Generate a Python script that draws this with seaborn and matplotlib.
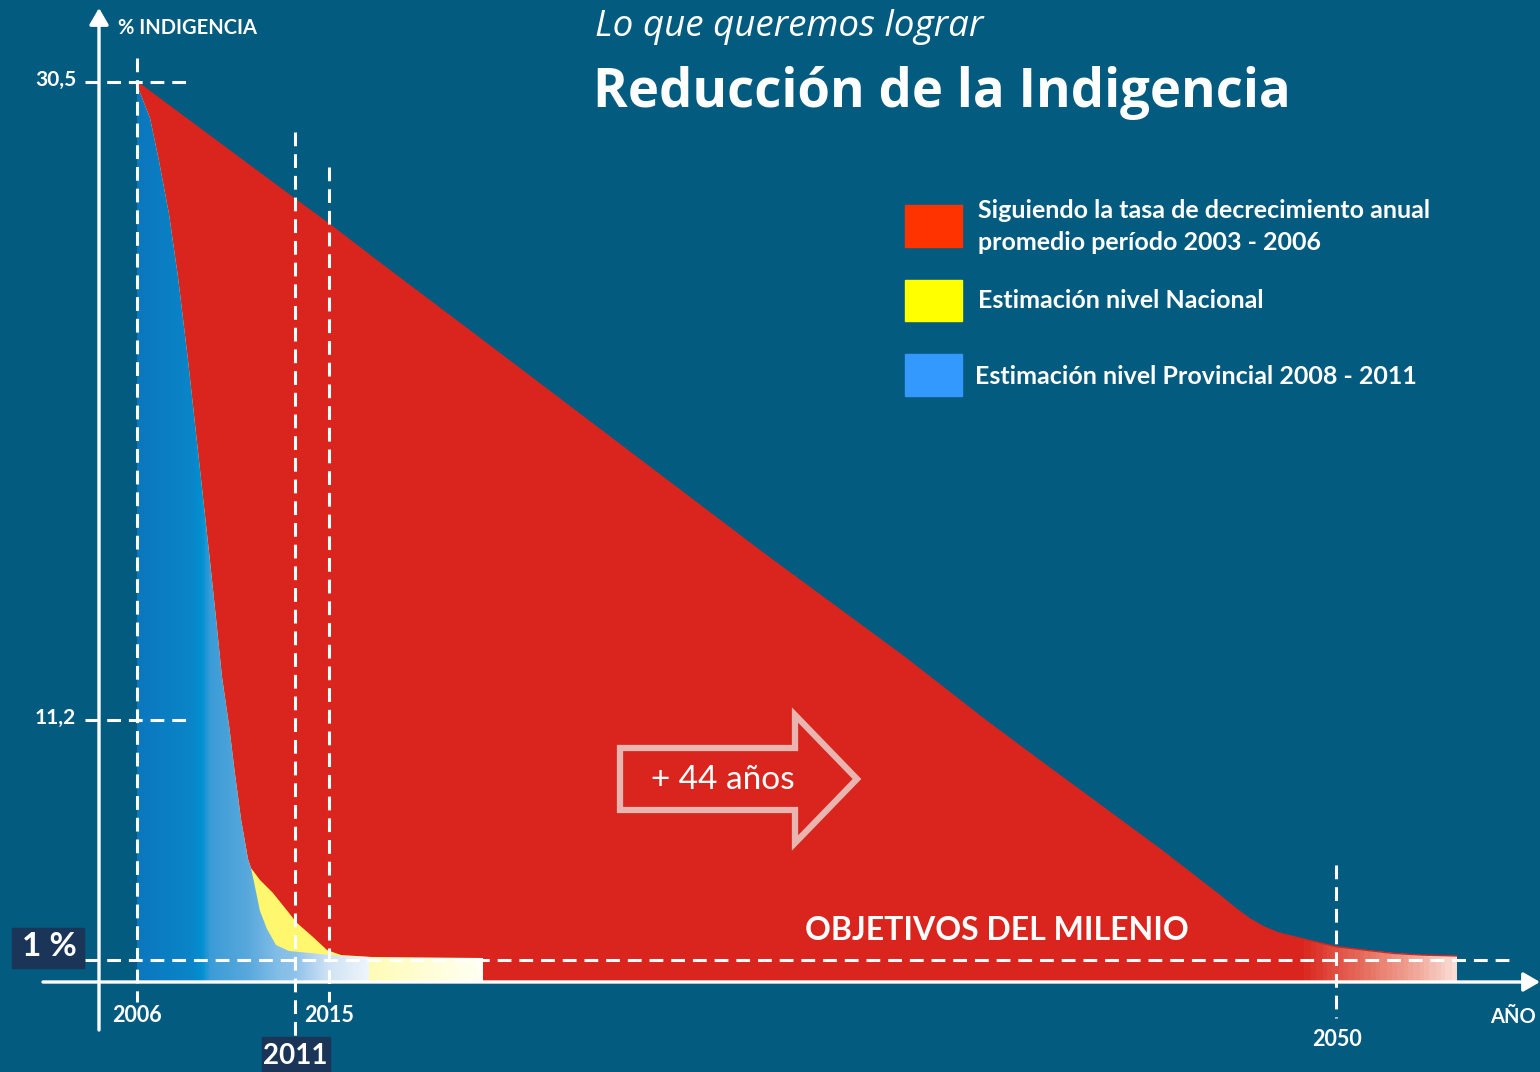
import numpy as np
import matplotlib
matplotlib.use('Agg')
import matplotlib.pyplot as plt
import seaborn as sns
from matplotlib.colors import LinearSegmentedColormap, Normalize
from matplotlib.patches import Rectangle, Polygon

W, H = 1540, 1072

# ---- data ----
red_years = [2006, 2011, 2015, 2016.8, 2020, 2025, 2030, 2035, 2037.8, 2040, 2042, 2044,
             2045, 2046, 2046.5, 2047, 2047.5, 2048, 2049, 2050, 2051, 2052, 2053, 2054.2]
red_vals = [30.5, 26.95, 26.2, 25.0, 22.9, 19.6, 16.3, 13.1, 11.2, 9.2, 7.4, 5.6,
            4.65, 3.7, 3.2, 2.75, 2.4, 2.15, 1.85, 1.57, 1.42, 1.28, 1.21, 1.17]

blue_years = [2006.0, 2006.4, 2006.7, 2007.0, 2007.3, 2007.6, 2008.3, 2008.5, 2008.7,
              2008.9, 2009.1, 2009.3, 2009.5, 2009.6, 2009.7, 2009.9, 2010.1, 2010.4,
              2010.8, 2012.8, 2015.4, 2016.4]
blue_vals = [30.4, 29.4, 28.1, 26.5, 24.6, 22.1, 16.0, 14.3, 12.5,
             11.0, 8.9, 7.0, 5.3, 4.9, 4.3, 3.1, 2.3, 1.65,
             1.4, 1.3, 1.17, 1.13]

yellow_years = [2006.0, 2006.4, 2006.7, 2007.0, 2007.3, 2007.6, 2008.3, 2008.5, 2008.7,
                2008.9, 2009.1, 2009.3, 2009.5, 2009.6, 2009.9, 2010.3, 2011.2,
                2013.1, 2014.8, 2015.4, 2016.5, 2020.35]
yellow_vals = [30.4, 29.4, 28.1, 26.5, 24.6, 22.1, 16.0, 14.3, 12.5,
               11.0, 8.9, 7.0, 5.3, 4.9, 4.4, 3.85, 2.57,
               1.98, 1.42, 1.21, 1.13, 1.1]

y_marks = [30.5, 11.2]
y_mark_labels = ['30,5', '11,2']
target = 1.0
year_marks = [2006, 2011, 2015, 2050]

# schematic (non-linear) axes of the original: value -> picture position
x_knots, x_pix = [2006, 2011, 2015, 2050], [137, 295, 329, 1336]
y_knots, y_pix = [0, 1, 11.2, 30.5], [982, 960, 720, 82]

BG = '#035b80'
RED = '#d9251d'
NAVY = '#1b3558'


def pw(v, xp, fp):
    v = np.asarray(v, float)
    flat = np.atleast_1d(v).ravel()
    out = np.interp(flat, xp, fp)
    s0 = (fp[1] - fp[0]) / (xp[1] - xp[0])
    s1 = (fp[-1] - fp[-2]) / (xp[-1] - xp[-2])
    out = np.where(flat < xp[0], fp[0] + (flat - xp[0]) * s0, out)
    out = np.where(flat > xp[-1], fp[-1] + (flat - xp[-1]) * s1, out)
    return out.reshape(v.shape)


y_h = [H - p for p in y_pix]
fx = lambda v: pw(v, x_knots, x_pix)
fx_inv = lambda p: pw(p, x_pix, x_knots)
fy = lambda v: pw(v, y_knots, y_h)
fy_inv = lambda p: pw(p, y_h, y_knots)


def gradient_area(ax, xs, ys, stops, z):
    poly = ax.fill_between(xs, 0, ys, facecolor='none', edgecolor='none', zorder=z)
    x0, x1 = min(xs), max(xs)
    cmap = LinearSegmentedColormap.from_list(
        'g', [((s - x0) / (x1 - x0), c) for s, c in stops])
    xe = np.linspace(x0, x1, 600)
    ye = np.array([-1.0, 32.0])
    c = ((xe[:-1] + xe[1:]) / 2)[None, :]
    mesh = ax.pcolormesh(xe, ye, c, cmap=cmap, norm=Normalize(x0, x1),
                         shading='flat', zorder=z)
    mesh.set_clip_path(poly.get_paths()[0], ax.transData)
    return mesh


sns.set_theme(style='white', rc={'axes.facecolor': BG, 'figure.facecolor': BG})
plt.rcParams['font.family'] = ['Lato', 'DejaVu Sans']

fig = plt.figure(figsize=(W / 100, H / 100), dpi=100)
ax = fig.add_axes([0, 0, 1, 1])
ax.set_facecolor(BG)

# areas: red (trend 2003-2006), yellow (national), blue (provincial)
gradient_area(ax, red_years, red_vals,
              [(2006, RED), (2048.9, RED), (2050.0, '#e04d40'), (2051.5, '#e87c6c'),
               (2053.0, '#f2ac9e'), (2054.2, '#fadcd4')], 1)
sns.lineplot(x=red_years, y=red_vals, ax=ax, color=RED, lw=1.0,
             estimator=None, sort=False, zorder=1.5)
gradient_area(ax, yellow_years, yellow_vals,
              [(2006, '#fff86e'), (2015.6, '#fff86e'), (2016.4, '#fffbb4'),
               (2020.35, '#fffff4')], 2)
gradient_area(ax, blue_years, blue_vals,
              [(2006.0, '#0b77bd'), (2007.7, '#0a84c8'), (2008.05, '#0090d0'),
               (2008.3, '#3a9bd6'), (2009.5, '#58a8dc'), (2010.5, '#84bee7'),
               (2012.5, '#a8cdee'), (2015.0, '#cfe2f4'), (2016.4, '#eef5fc')], 3)

ax.set_xscale('function', functions=(fx, fx_inv))
ax.set_yscale('function', functions=(fy, fy_inv))
ax.set_xlim(float(fx_inv(0)), float(fx_inv(W)))
ax.set_ylim(float(fy_inv(0)), float(fy_inv(H)))
ax.set_xticks([])
ax.set_yticks([])
ax.set_xlabel('')
ax.set_ylabel('')
for s in ax.spines.values():
    s.set_visible(False)

fa = lambda p: 1 - p / H  # picture row -> axes fraction
dash = dict(color='white', lw=2.2, dashes=(4.5, 2.6), zorder=5, solid_capstyle='butt')
xt = ax.get_xaxis_transform()
yt = ax.get_yaxis_transform()
v_ext = {2006: (58, 1002), 2011: (132, 1036), 2015: (167, 1002), 2050: (865, 1018)}
for yr in year_marks:
    top, bot = v_ext[yr]
    ax.plot([yr, yr], [fa(top), fa(bot)], transform=xt, **dash)
for v in y_marks:
    ax.plot([85 / W, 190 / W], [v, v], transform=yt, **dash)
ax.plot([85 / W, 1515 / W], [target, target], transform=yt, **dash)

# axis arrows
arrow = dict(arrowstyle='-|>,head_length=0.5,head_width=0.29', mutation_scale=20,
             lw=2.4, color='white', shrinkA=0, shrinkB=0)
ax.annotate('', xy=(99, H - 8), xytext=(99, H - 1030), xycoords='figure pixels',
            arrowprops=arrow, annotation_clip=False, zorder=6)
ax.annotate('', xy=(1540, H - 982), xytext=(43, H - 982), xycoords='figure pixels',
            arrowprops=arrow, annotation_clip=False, zorder=6)


def rect(x0, y0, x1, y1, **kw):
    fig.add_artist(Rectangle((x0 / W, 1 - y1 / H), (x1 - x0) / W, (y1 - y0) / H,
                             transform=fig.transFigure, **kw))


def txt(x, y, s, **kw):
    kw.setdefault('color', 'white')
    kw.setdefault('va', 'center')
    fig.text(x / W, 1 - y / H, s, **kw)


# big "+44 años" arrow outline
fig.add_artist(Polygon([(x / W, 1 - y / H) for x, y in
                        [(620, 748), (795, 748), (795, 715), (857, 779),
                         (795, 843), (795, 810), (620, 810)]],
                       closed=True, fill=False, edgecolor='#e9b5b1', lw=4.5,
                       joinstyle='miter', transform=fig.transFigure))
txt(723, 780, '+ 44 años', fontsize=24, ha='center')

# labels
txt(118, 28, '% INDIGENCIA', fontsize=14.5, fontweight='bold', ha='left')
for v, lab in zip(y_marks, y_mark_labels):
    txt(76, y_pix[y_knots.index(v)] - 2, lab, fontsize=15, fontweight='bold', ha='right')
rect(12, 928, 84, 968, color=NAVY)
txt(49, 947, '1 %', fontsize=24, fontweight='bold', ha='center')
txt(137, 1016, '2006', fontsize=15.5, fontweight='bold', ha='center')
txt(329, 1016, '2015', fontsize=15.5, fontweight='bold', ha='center')
rect(262, 1037, 330, 1072, color=NAVY)
txt(295, 1056, '2011', fontsize=20, fontweight='bold', ha='center')
txt(1337, 1040, '2050', fontsize=15.5, fontweight='bold', ha='center')
txt(1513, 1017, 'AÑO', fontsize=14.5, fontweight='bold', ha='center')
txt(997, 930, 'OBJETIVOS DEL MILENIO', fontsize=23, fontweight='bold', ha='center')

# titles
txt(595, 27, 'Lo que queremos lograr', fontsize=26.5, style='italic',
    ha='left', family=['Open Sans', 'DejaVu Sans'])
txt(593, 93, 'Reducción de la Indigencia', fontsize=38, fontweight='bold', ha='left',
    family=['Open Sans', 'DejaVu Sans'])

# legend
rect(905, 205, 962, 247, color='#ff3300')
rect(905, 280, 962, 321, color='#ffff00')
rect(905, 354, 962, 396, color='#3399ff')
legend_font = dict(fontsize=18, fontweight='bold')
txt(978, 211, 'Siguiendo la tasa de decrecimiento anual', **legend_font)
txt(978, 243, 'promedio período 2003 - 2006', **legend_font)
txt(978, 301, 'Estimación nivel Nacional', **legend_font)
txt(975, 377, 'Estimación nivel Provincial 2008 - 2011', **legend_font)

fig.savefig('out.png', dpi=100, facecolor=BG)
